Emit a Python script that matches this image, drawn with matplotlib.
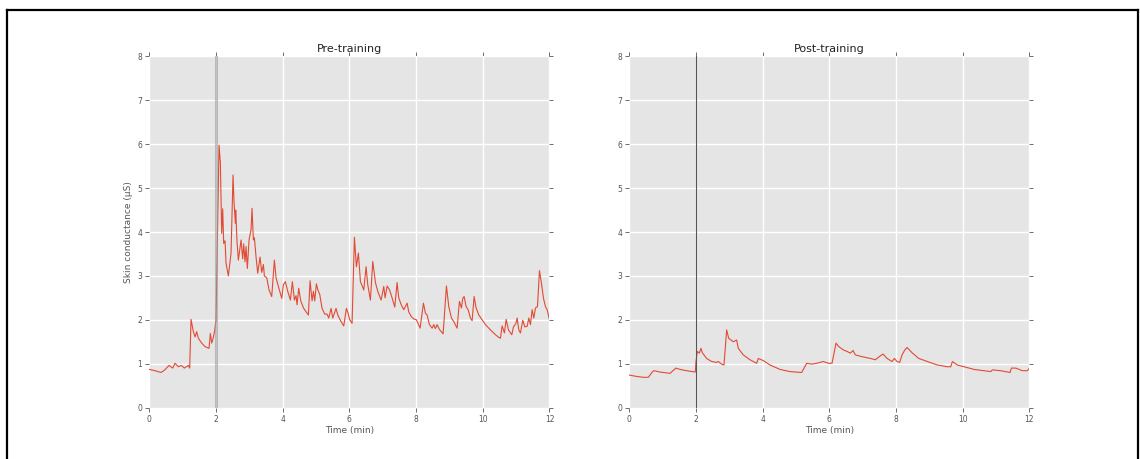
import matplotlib
matplotlib.use('Agg')
import matplotlib.pyplot as plt
from matplotlib.lines import Line2D

# skin conductance traces (time in min, value in uS)
pre_t = [0.0, 0.17, 0.35, 0.45, 0.59, 0.7, 0.77, 0.87, 0.96, 1.05, 1.17, 1.21,
         1.25, 1.32, 1.37, 1.42, 1.47, 1.57, 1.67, 1.79, 1.83, 1.87, 1.92, 1.96,
         2.0, 2.05, 2.09, 2.13, 2.17, 2.2, 2.23, 2.27, 2.3, 2.37, 2.45, 2.49, 2.51,
         2.54, 2.58, 2.59, 2.63, 2.67, 2.75, 2.8, 2.83, 2.87, 2.9, 2.94, 2.99,
         3.05, 3.08, 3.12, 3.15, 3.2, 3.25, 3.32, 3.37, 3.42, 3.45, 3.52, 3.59,
         3.67, 3.75, 3.8, 3.87, 3.97, 4.02, 4.08, 4.15, 4.23, 4.29, 4.35, 4.4,
         4.43, 4.48, 4.54, 4.63, 4.77, 4.82, 4.88, 4.92, 4.96, 5.01, 5.05, 5.11,
         5.18, 5.26, 5.33, 5.38, 5.45, 5.5, 5.6, 5.65, 5.75, 5.83, 5.91, 5.96,
         6.01, 6.08, 6.15, 6.21, 6.27, 6.33, 6.43, 6.5, 6.55, 6.63, 6.7, 6.78,
         6.85, 6.95, 7.03, 7.07, 7.13, 7.2, 7.28, 7.36, 7.43, 7.48, 7.55, 7.63,
         7.73, 7.78, 7.86, 7.93, 8.01, 8.12, 8.22, 8.28, 8.33, 8.4, 8.48, 8.53,
         8.58, 8.63, 8.7, 8.81, 8.91, 8.98, 9.06, 9.13, 9.23, 9.3, 9.36, 9.4,
         9.44, 9.5, 9.56, 9.63, 9.68, 9.74, 9.8, 9.88, 9.98, 10.08, 10.23, 10.38,
         10.48, 10.53, 10.58, 10.65, 10.7, 10.77, 10.87, 10.92, 10.99, 11.03,
         11.08, 11.13, 11.2, 11.26, 11.33, 11.38, 11.43, 11.48, 11.53, 11.58,
         11.64, 11.7, 11.76, 11.82, 11.88, 11.93, 12.0]
pre_v = [0.87, 0.84, 0.8, 0.85, 0.96, 0.9, 1.01, 0.93, 0.96, 0.9, 0.96, 0.9,
         2.01, 1.73, 1.61, 1.73, 1.58, 1.47, 1.39, 1.35, 1.69, 1.47, 1.6, 1.76,
         2.0, 4.2, 5.98, 5.57, 3.97, 4.53, 3.74, 3.8, 3.29, 3.0, 3.52, 4.66, 5.3,
         4.68, 4.2, 4.5, 3.77, 3.36, 3.82, 3.39, 3.73, 3.32, 3.67, 3.17, 3.82,
         4.05, 4.54, 3.82, 3.87, 3.43, 3.06, 3.43, 3.08, 3.26, 3.0, 2.96, 2.68,
         2.53, 3.36, 2.96, 2.76, 2.49, 2.8, 2.87, 2.65, 2.45, 2.87, 2.45, 2.55,
         2.34, 2.72, 2.43, 2.26, 2.11, 2.89, 2.43, 2.65, 2.43, 2.82, 2.69, 2.58,
         2.26, 2.13, 2.13, 2.04, 2.26, 2.04, 2.26, 2.11, 1.96, 1.86, 2.26, 2.15,
         2.0, 1.92, 3.88, 3.21, 3.52, 2.87, 2.68, 3.21, 2.8, 2.45, 3.33, 2.85,
         2.65, 2.45, 2.76, 2.5, 2.77, 2.69, 2.5, 2.29, 2.85, 2.5, 2.35, 2.23,
         2.38, 2.18, 2.07, 2.02, 2.0, 1.81, 2.38, 2.15, 2.11, 1.89, 1.81, 1.89,
         1.8, 1.89, 1.78, 1.68, 2.77, 2.3, 2.04, 1.96, 1.81, 2.42, 2.27, 2.49,
         2.53, 2.3, 2.23, 2.04, 1.98, 2.53, 2.27, 2.11, 2.0, 1.89, 1.77, 1.66,
         1.6, 1.58, 1.86, 1.7, 2.01, 1.77, 1.66, 1.84, 1.91, 2.04,
         1.77, 1.7, 1.99, 1.84, 1.85, 2.04, 1.89, 2.23, 2.04, 2.27,
         2.3, 3.12, 2.83, 2.49, 2.3, 2.23, 2.0]

post_t = [0.0, 0.22, 0.42, 0.57, 0.62, 0.7, 0.74, 0.92, 1.22, 1.4, 1.52, 1.72,
          1.98, 2.0, 2.04, 2.1, 2.15, 2.19, 2.32, 2.47, 2.62, 2.67, 2.77, 2.84,
          2.92, 2.98, 3.12, 3.22, 3.27, 3.42, 3.62, 3.82, 3.87, 4.02, 4.22, 4.52,
          4.82, 5.17, 5.32, 5.47, 5.62, 5.82, 5.97, 6.08, 6.13, 6.2, 6.28, 6.43,
          6.53, 6.63, 6.71, 6.78, 6.98, 7.23, 7.38, 7.53, 7.61, 7.73, 7.88, 7.95,
          8.03, 8.11, 8.18, 8.26, 8.33, 8.48, 8.68, 8.94, 9.24, 9.54, 9.64, 9.69,
          9.84, 10.34, 10.84, 10.89, 11.14, 11.42, 11.46, 11.59, 11.79, 11.94, 12.0]
post_v = [0.74, 0.71, 0.69, 0.69, 0.74, 0.82, 0.84, 0.81, 0.78, 0.9, 0.87, 0.84,
          0.81, 1.05, 1.28, 1.24, 1.35, 1.25, 1.12, 1.05, 1.03, 1.05, 0.99, 0.97,
          1.77, 1.58, 1.5, 1.54, 1.35, 1.2, 1.09, 1.01, 1.12, 1.07, 0.97, 0.87,
          0.82, 0.8, 1.01, 0.99, 1.01, 1.05, 1.01, 1.01, 1.2, 1.47, 1.39, 1.31,
          1.28, 1.24, 1.3, 1.2, 1.16, 1.12, 1.09, 1.18, 1.22, 1.12, 1.05, 1.12,
          1.05, 1.03, 1.2, 1.31, 1.37, 1.25, 1.12, 1.05, 0.97, 0.93, 0.93, 1.05,
          0.97, 0.87, 0.82, 0.86, 0.84, 0.8, 0.9, 0.9, 0.84, 0.84, 0.9]

onset = 2  # stimulus onset (min)
titles = ['Pre-training', 'Post-training']

plt.style.use('ggplot')
plt.rcParams['font.family'] = ['DejaVu Sans']

fig = plt.figure(figsize=(11.4, 4.59), dpi=100)
ax1 = fig.add_axes([0.131, 0.112, 0.351, 0.765])
ax2 = fig.add_axes([0.552, 0.112, 0.351, 0.765])

for ax, t, v, title in [(ax1, pre_t, pre_v, titles[0]), (ax2, post_t, post_v, titles[1])]:
    ax.plot(t, v, color='#E24A33', linewidth=0.8)
    ax.set_xlim(0, 12)
    ax.set_ylim(0, 8)
    ax.set_xticks(range(0, 13, 2))
    ax.set_yticks(range(0, 9))
    ax.set_facecolor('#E5E5E5')
    ax.grid(True, color='white', linewidth=1)
    ax.tick_params(direction='out', length=3, width=0.6, colors='#555555',
                   labelsize=5.5, top=True, right=True, pad=2)
    for s in ax.spines.values():
        s.set_visible(False)
    ax.set_title(title, fontsize=8, color='#222222', pad=3)
    ax.set_xlabel('Time (min)', fontsize=6.5, color='#555555', labelpad=2)

ax1.axvline(onset, color='#999999', linewidth=2.2, alpha=0.6)
ax2.axvline(onset, color='#555555', linewidth=0.8)
ax1.set_ylabel('Skin conductance (\u00b5S)', fontsize=6.5, color='#555555', labelpad=3)

# black frame around the figure (top, left, right)
fig.add_artist(Line2D([0.006, 0.006], [0, 0.979], color='black', linewidth=1.6))
fig.add_artist(Line2D([0.006, 0.998], [0.979, 0.979], color='black', linewidth=1.6))
fig.add_artist(Line2D([0.998, 0.998], [0, 0.979], color='black', linewidth=1.6))

fig.savefig('out.png', dpi=100, facecolor='white')
